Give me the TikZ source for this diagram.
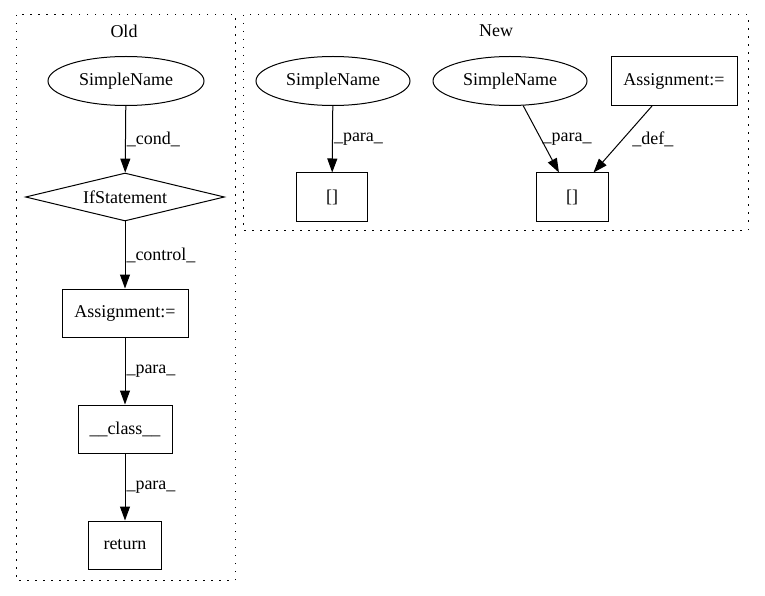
\documentclass[tikz,border=0pt]{standalone}
\usepackage{fontspec}
\setmainfont{Liberation Serif}
\usetikzlibrary{shapes.geometric,arrows.meta}
\begin{document}
\begin{tikzpicture}[x=1pt,y=-1pt,line width=1pt,
    font=\fontsize{18}{20}\selectfont,
    every node/.style={inner sep=0pt},
    snode/.style={draw,ellipse,minimum width=156pt,minimum height=49pt},
    bnode/.style={draw,rectangle,minimum height=48pt},
    dnode/.style={draw,diamond,aspect=4,minimum width=199pt,minimum height=48pt},
    cluster/.style={draw,dash pattern=on 1.5pt off 6.5pt},
    lbl/.style={midway,right,inner sep=1pt}]
  \useasboundingbox (0,0) rectangle (765,596);
  % clusters
  \draw[cluster] (16,15) rectangle (235,580);
  \draw[cluster] (243,15) rectangle (748,230);
  \draw
    (124,31) node (old){Old}
    (496,31) node (new){New};
  % old
  \draw
    (126,81) node[snode] (o0){SimpleName}
    (125,197) node[dnode] (o1){IfStatement}
    (125,313) node[bnode,minimum width=126pt] (o2){Assignment:=}
    (125,429) node[bnode,minimum width=94pt] (o3){\_\_class\_\_}
    (125,545) node[bnode,minimum width=73pt] (o4){return};
  % new
  \draw
    (333,81) node[snode,minimum width=154pt] (n0){SimpleName}
    (332,197) node[bnode,minimum width=71pt] (n1){[]}
    (510,81) node[snode,minimum width=154pt] (n2){SimpleName}
    (674,81) node[bnode,minimum width=126pt,minimum height=49pt] (n3){Assignment:=}
    (572,197) node[bnode,minimum width=72pt] (n4){[]};
  \begin{scope}[-{Triangle[length=14pt,width=10pt]}]
    \draw (o0) to node[lbl]{\_cond\_} (o1);
    \draw (o1) to node[lbl]{\_control\_} (o2);
    \draw (o2) to node[lbl]{\_para\_} (o3);
    \draw (o3) to node[lbl]{\_para\_} (o4);
    \draw (n0) to node[lbl]{\_para\_} (n1);
    \draw (n2) to node[lbl]{\_para\_} (n4);
    \draw (n3) to node[lbl,xshift=8pt]{\_def\_} (n4);
  \end{scope}
\end{tikzpicture}
\end{document}
